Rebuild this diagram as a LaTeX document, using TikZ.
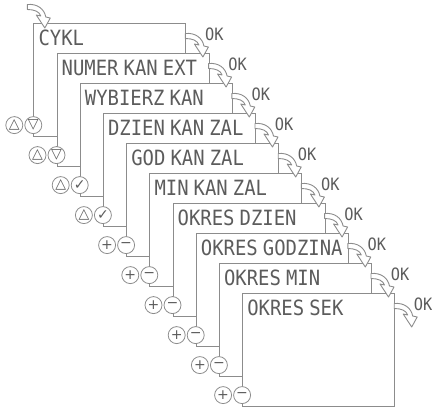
\documentclass[tikz,border=0pt]{standalone}
\usepackage{fontspec}
\usepackage{tikz}
\usetikzlibrary{calc}
\newfontfamily\lcdfont[FakeStretch=0.9, WordSpace=0.45]{DejaVu Sans Mono}
\newfontfamily\symfont{DejaVu Sans}
\definecolor{frame}{HTML}{8C8C8C}
\definecolor{ink}{HTML}{5C5C5C}

\tikzset{
  okarrow/.pic={
    \draw[frame, fill=white, line width=0.9pt, line join=round]
      (0,-2.5) .. controls (10,-3.5) and (17,2) .. (18.5,10) -- (23,11) -- (17.5,21)
      -- (9,8) -- (13.5,9) .. controls (12,4.5) and (7,2.5) .. (0,2.5) -- cycle;
  }
}

\begin{document}
\begin{tikzpicture}[x=1pt, y=-1pt,
    panel/.style={rectangle, draw=frame, fill=white, line width=1.1pt, minimum width=152pt, minimum height=113pt, inner sep=0pt, anchor=north west},
    lbl/.style={anchor=base west, inner sep=0pt, text=ink, font=\lcdfont\fontsize{21}{21}\selectfont},
    ok/.style={inner sep=0pt, text=ink, font=\lcdfont\fontsize{17}{17}\selectfont},
    btn/.style={circle, draw=frame, fill=white, line width=0.8pt, minimum size=17pt, inner sep=0pt, text=ink, font=\symfont\fontsize{14}{14}\selectfont}
]
    \useasboundingbox (0,0) rectangle (432,408);

    % menu screens
    \foreach \lab [count=\i] in {CYKL, NUMER KAN EXT, WYBIERZ KAN, DZIEN KAN ZAL, GOD KAN ZAL, MIN KAN ZAL, OKRES DZIEN, OKRES GODZINA, OKRES MIN, OKRES SEK} {
        \node[panel] (p\i) at ({33.3+23.2*(\i-1)}, {23+30*(\i-1)}) {};
        \node[lbl] (t\i) at ($(p\i.north west)+(5,22)$) {\lab};
    }

    % keys
    \foreach \a/\b [count=\i] in {△/▽, △/▽, △/✓, △/✓, +/−, +/−, +/−, +/−, +/−, +/−} {
        \node[btn] (d\i) at ($(p\i.south west)+(0,-12)$) {\b};
        \node[btn] (u\i) at ($(d\i)+(-19,0)$) {\a};
    }

    % entry and OK arrows
    \pic at ($(p1.north west)+(-6,-16)$) {okarrow};
    \foreach \i in {1,...,10} {
        \pic at ($(p\i.north east)+(-1,13)$) {okarrow};
        \node[ok] (ok\i) at ($(p\i.north east)+(28,11)$) {OK};
    }
\end{tikzpicture}
\end{document}
